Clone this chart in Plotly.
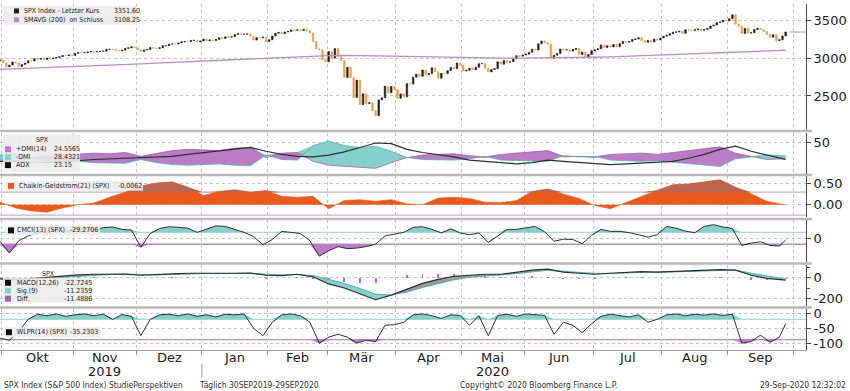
import numpy as np
import pandas as pd
import plotly.graph_objects as go
from plotly.subplots import make_subplots

# ---------------------------------------------------------------- data
holidays = ["2019-11-28", "2019-12-25", "2020-01-01", "2020-01-20", "2020-02-17",
            "2020-04-10", "2020-05-25", "2020-07-03", "2020-09-07"]

spx_first_open = 2967.07
spx_close = [
    2976.74,
    # Oct 2019
    2940.25, 2887.61, 2910.63, 2952.01, 2938.79, 2893.06, 2919.40, 2938.13, 2970.27, 2966.15,
    2995.68, 2989.69, 2997.95, 2986.20, 3006.72, 2995.99, 3004.52, 3010.29, 3022.55, 3039.42,
    3036.89, 3046.77, 3037.56,
    # Nov
    3066.91, 3078.27, 3074.62, 3076.78, 3085.18, 3093.08, 3087.01, 3091.84, 3094.04, 3096.63,
    3120.46, 3122.03, 3120.18, 3108.46, 3103.54, 3110.29, 3133.64, 3140.52, 3153.63, 3140.98,
    # Dec
    3113.87, 3093.20, 3112.76, 3117.43, 3145.91, 3135.96, 3132.52, 3141.63, 3168.57, 3168.80,
    3191.45, 3192.52, 3191.14, 3205.37, 3221.22, 3224.01, 3223.38, 3239.91, 3240.02, 3221.29,
    3230.78,
    # Jan 2020
    3257.85, 3234.85, 3246.28, 3237.18, 3253.05, 3274.70, 3265.35, 3288.13, 3283.15, 3289.29,
    3316.81, 3329.62, 3320.79, 3321.75, 3325.54, 3295.47, 3243.63, 3276.24, 3273.40, 3283.66,
    3225.52,
    # Feb
    3248.92, 3297.59, 3334.69, 3345.78, 3327.71, 3352.09, 3357.75, 3379.45, 3373.94, 3380.16,
    3370.29, 3386.15, 3373.23, 3337.75, 3225.89, 3128.21, 3116.39, 2978.76, 2954.22,
    # Mar
    3090.23, 3003.37, 3130.12, 3023.94, 2972.37, 2746.56, 2882.23, 2741.38, 2480.64, 2711.02,
    2386.13, 2529.19, 2398.10, 2409.39, 2304.92, 2237.40, 2447.33, 2475.56, 2630.07, 2541.47,
    2626.65, 2584.59,
    # Apr
    2470.50, 2526.90, 2488.65, 2663.68, 2659.41, 2749.98, 2789.82, 2761.63, 2846.06, 2783.36,
    2799.55, 2874.56, 2823.16, 2736.56, 2799.31, 2797.80, 2836.74, 2878.48, 2863.39, 2939.51,
    2912.43,
    # May
    2830.71, 2842.74, 2868.44, 2848.42, 2881.19, 2929.80, 2930.32, 2870.12, 2820.00, 2852.50,
    2863.70, 2953.91, 2922.94, 2971.61, 2948.51, 2955.45, 2991.77, 3036.13, 3029.73, 3044.31,
    # Jun
    3055.73, 3080.82, 3122.87, 3112.35, 3193.93, 3232.39, 3207.18, 3190.14, 3002.10, 3041.31,
    3066.59, 3124.74, 3113.49, 3115.34, 3097.74, 3117.86, 3131.29, 3050.33, 3083.76, 3009.05,
    3053.24, 3100.29,
    # Jul
    3115.86, 3130.01, 3179.72, 3145.32, 3169.94, 3152.05, 3185.04, 3155.22, 3197.52, 3226.56,
    3215.57, 3224.73, 3251.84, 3257.30, 3276.02, 3235.66, 3215.63, 3239.41, 3218.44, 3258.44,
    3246.22, 3271.12,
    # Aug
    3294.61, 3306.51, 3327.77, 3349.16, 3351.28, 3360.47, 3333.69, 3380.35, 3373.43, 3372.85,
    3381.99, 3389.78, 3374.85, 3385.51, 3397.16, 3431.28, 3443.62, 3478.73, 3484.55, 3508.01,
    3500.31,
    # Sep
    3526.65, 3580.84, 3455.06, 3426.96, 3331.84, 3398.96, 3339.19, 3340.97, 3383.54, 3401.20,
    3385.49, 3357.01, 3319.47, 3281.06, 3315.57, 3236.92, 3246.59, 3298.46, 3351.60,
]

# indicators read every 5th trading day (+ last day)
sma200 = [2855, 2862, 2869, 2876, 2884, 2892, 2900, 2909, 2918, 2927,
          2937, 2947, 2957, 2967, 2977, 2987, 2997, 3007, 3016, 3025,
          3033, 3038, 3041, 3041, 3037, 3031, 3026, 3021, 3017, 3013,
          3010, 3007, 3004, 3003, 3004, 3006, 3008, 3011, 3015, 3020,
          3026, 3033, 3040, 3048, 3057, 3066, 3075, 3084, 3092, 3099,
          3106, 3108.25]
dmi_plus = [22, 20, 26, 29, 30, 31, 33, 32, 34, 28,
            33, 37, 39, 38, 37, 41, 42, 26, 33, 34,
            20, 14, 12, 10, 9, 18, 26, 30, 31, 32,
            29, 26, 31, 33, 36, 37, 27, 28, 26, 31,
            32, 33, 31, 34, 36, 39, 43, 33, 28, 23,
            24, 24.5565]
dmi_minus = [30, 32, 24, 20, 19, 20, 18, 18, 17, 23,
             18, 15, 14, 15, 16, 14, 13, 30, 23, 22,
             45, 52, 45, 42, 44, 36, 26, 23, 23, 22,
             24, 28, 22, 21, 20, 20, 29, 27, 28, 22,
             21, 20, 21, 19, 17, 14, 12, 24, 27, 30,
             29, 28.4321]
adx = [20, 20, 19, 18, 19, 21, 23, 24, 25, 25,
       26, 28, 31, 34, 36, 39, 42, 36, 31, 28,
       27, 30, 35, 42, 49, 48, 39, 34, 31, 27,
       22, 20, 18, 16, 18, 22, 20, 18, 16, 15,
       16, 17, 18, 20, 25, 31, 39, 44, 36, 30,
       25, 23.15]
chaikin = [0.06, -0.08, -0.15, -0.18, -0.08, 0.00, 0.04, 0.18, 0.30, 0.45,
           0.52, 0.55, 0.42, 0.22, 0.32, 0.36, 0.30, 0.34, 0.20, 0.18,
           0.20, -0.10, 0.10, 0.12, 0.08, 0.12, 0.02, 0.00, 0.16, 0.18,
           0.15, 0.06, 0.05, 0.10, 0.32, 0.38, 0.25, 0.15, -0.02, -0.10,
           0.05, 0.20, 0.35, 0.48, 0.50, 0.55, 0.60, 0.42, 0.26, 0.08,
           0.02, -0.0062]
macd = [-10, -18, -8, 5, 15, 28, 35, 38, 36, 25,
        28, 38, 45, 44, 40, 45, 47, 25, 22, 35,
        10, -60, -100, -160, -215, -170, -110, -55, -15, 15,
        25, 35, 35, 55, 75, 85, 55, 45, 35, 45,
        55, 60, 55, 60, 65, 70, 80, 75, 25, -5,
        -20, -22.7245]
macd_signal = [-5, -12, -12, -5, 5, 16, 26, 32, 35, 31,
               29, 33, 39, 42, 41, 43, 45, 35, 28, 31,
               22, -15, -55, -105, -160, -168, -140, -95, -55, -20,
               5, 20, 28, 42, 60, 74, 64, 53, 43, 44,
               50, 56, 56, 58, 62, 67, 75, 76, 45, 15,
               -8, -11.2359]

# indicators read every 3rd trading day (+ last day)
cmci = [-50, -250, -40, 40, 90, 120, 140, 110, 150, 170,
        140, 180, 190, 150, 140, -150, 80, 165, 195, 185,
        170, 100, 150, 210, 200, 145, 100, 30, -110, -20,
        115, 100, 80, -40, -300, -210, -140, -175, -165, -140,
        -100, 40, 70, 100, 185, 195, 150, 90, 160, 90,
        60, 90, -70, 40, 150, 150, 170, 200, 110, -50,
        -15, -20, -90, 50, 150, 117, 117, 95, 60, 20,
        60, 200, 170, 120, 95, 200, 230, 190, 165, -120,
        -80, -60, -120, -130, -29.2706]
wlpr = [-83, -90, -60, -20, -3, -8, -2, -10, -5, -2,
        -8, -3, -20, -4, -10, -75, -20, -5, -3, -8,
        -2, -10, -5, -12, -3, -5, -2, -50, -75, -30,
        -5, -2, -8, -30, -100, -80, -70, -80, -100, -90,
        -95, -40, -38, -30, -5, -2, -8, -17, -5, -7,
        -40, -8, -75, -7, -3, -10, -2, -5, -7, -70,
        -30, -40, -65, -35, -10, -3, -8, -12, -5, -30,
        -20, -5, -2, -8, -3, -6, -2, -7, -3, -100,
        -95, -73, -97, -80, -35.2303]

month_labels = ["Okt", "Nov", "Dez", "Jan", "Feb", "Mär", "Apr", "Mai", "Jun", "Jul", "Aug", "Sep"]
year_labels = [("2019", 1), ("2020", 7)]   # (text, month slot it sits under)

# ---------------------------------------------------------------- helpers
cal = pd.bdate_range("2019-09-30", "2020-10-09")
cal = cal[~cal.strftime("%Y-%m-%d").isin(holidays)]
n = min(len(spx_close), len(cal))
close = np.array(spx_close[:n], dtype=float)
opn = np.r_[spx_first_open, close[:-1]]
xday = np.arange(n)

s5 = np.r_[np.arange(0, n - 1, 5), n - 1]
s3 = np.r_[np.arange(0, n - 2, 3), n - 1]


def series(idx, vals):
    m = min(len(idx), len(vals))
    return idx[:m], np.array(vals[:m], dtype=float)


W, H = 806.0, 350.0
def px(x): return x / W
def py(y): return 1 - y / H

FONT = "DejaVu Sans"
SMALL = "DejaVu Sans Condensed, Liberation Sans Narrow, Arial Narrow, DejaVu Sans"
GRID = "#c4c4c4"
AXIS = "#4a4a4a"
PURPLE = "#bb7cc6"
PURPLE_L = "#a35cae"
CYAN = "#86cfcb"
CYAN_L = "#4fb3ad"
ORANGE = "#ea5a1e"
BROWN = "#bb654f"
DARK = "#2e2e2e"
CANDLE_UP = "#1e1e1e"
CANDLE_DN = "#f29b45"

PANELS = [(0, 127), (130, 172), (174, 215), (219, 261), (264, 305), (309, 350)]

fig = make_subplots(rows=6, cols=1, shared_xaxes=True, vertical_spacing=0.0)

NOHOV = dict(hoverinfo="skip", showlegend=False)

# ---- price panel
fig.add_trace(go.Candlestick(
    x=xday, open=opn, close=close,
    high=np.maximum(opn, close), low=np.minimum(opn, close),
    increasing=dict(line=dict(color=CANDLE_UP, width=0.6), fillcolor=CANDLE_UP),
    decreasing=dict(line=dict(color=CANDLE_DN, width=0.6), fillcolor=CANDLE_DN),
    whiskerwidth=0, showlegend=False, hoverinfo="skip"), row=1, col=1)
xs, ys = series(s5, sma200)
fig.add_trace(go.Scatter(x=xs, y=ys, mode="lines", line=dict(color="#b98bc7", width=1.3), **NOHOV), row=1, col=1)

# ---- DMI panel
xs, pdi = series(s5, dmi_plus)
_, mdi = series(s5, dmi_minus)
_, adxv = series(s5, adx)
fig.add_trace(go.Scatter(x=xs, y=mdi, mode="lines", line=dict(width=0), **NOHOV), row=2, col=1)
fig.add_trace(go.Scatter(x=xs, y=np.maximum(pdi, mdi), mode="lines", line=dict(width=0),
                         fill="tonexty", fillcolor=PURPLE, **NOHOV), row=2, col=1)
fig.add_trace(go.Scatter(x=xs, y=pdi, mode="lines", line=dict(width=0), **NOHOV), row=2, col=1)
fig.add_trace(go.Scatter(x=xs, y=np.maximum(pdi, mdi), mode="lines", line=dict(width=0),
                         fill="tonexty", fillcolor=CYAN, **NOHOV), row=2, col=1)
fig.add_trace(go.Scatter(x=xs, y=pdi, mode="lines", line=dict(color=PURPLE_L, width=0.8), **NOHOV), row=2, col=1)
fig.add_trace(go.Scatter(x=xs, y=mdi, mode="lines", line=dict(color=CYAN_L, width=0.8), **NOHOV), row=2, col=1)
fig.add_trace(go.Scatter(x=xs, y=adxv, mode="lines", line=dict(color=DARK, width=1.2), **NOHOV), row=2, col=1)

# ---- Chaikin panel
CH_HI = 0.30
xs, ch = series(s5, chaikin)
fig.add_trace(go.Scatter(x=xs, y=ch, mode="lines", line=dict(color=ORANGE, width=0.6),
                         fill="tozeroy", fillcolor=ORANGE, **NOHOV), row=3, col=1)
fig.add_trace(go.Scatter(x=xs, y=np.full(len(xs), CH_HI), mode="lines", line=dict(width=0), **NOHOV), row=3, col=1)
fig.add_trace(go.Scatter(x=xs, y=np.maximum(ch, CH_HI), mode="lines", line=dict(width=0),
                         fill="tonexty", fillcolor=BROWN, **NOHOV), row=3, col=1)

# ---- oscillator panels with upper / lower bands
def osc(row, xs, v, hi, lo):
    fig.add_trace(go.Scatter(x=xs, y=np.full(len(xs), hi), mode="lines", line=dict(width=0), **NOHOV), row=row, col=1)
    fig.add_trace(go.Scatter(x=xs, y=np.maximum(v, hi), mode="lines", line=dict(width=0),
                             fill="tonexty", fillcolor=CYAN, **NOHOV), row=row, col=1)
    fig.add_trace(go.Scatter(x=xs, y=np.full(len(xs), lo), mode="lines", line=dict(width=0), **NOHOV), row=row, col=1)
    fig.add_trace(go.Scatter(x=xs, y=np.minimum(v, lo), mode="lines", line=dict(width=0),
                             fill="tonexty", fillcolor=PURPLE, **NOHOV), row=row, col=1)
    fig.add_trace(go.Scatter(x=xs, y=v, mode="lines", line=dict(color=DARK, width=1), **NOHOV), row=row, col=1)

CM_HI, CM_LO = 100, -100
xs, cm = series(s3, cmci)
osc(4, xs, cm, CM_HI, CM_LO)

# ---- MACD panel
xs, mc = series(s5, macd)
_, sg = series(s5, macd_signal)
diff = mc - sg
fig.add_trace(go.Bar(x=xs, y=diff, width=0.6, marker=dict(color="#b46fbf", line=dict(width=0)), **NOHOV), row=5, col=1)
fig.add_trace(go.Scatter(x=xs, y=sg, mode="lines", line=dict(width=0), **NOHOV), row=5, col=1)
fig.add_trace(go.Scatter(x=xs, y=np.minimum(mc, sg), mode="lines", line=dict(width=0),
                         fill="tonexty", fillcolor=CYAN, **NOHOV), row=5, col=1)
fig.add_trace(go.Scatter(x=xs, y=sg, mode="lines", line=dict(width=0), **NOHOV), row=5, col=1)
fig.add_trace(go.Scatter(x=xs, y=np.maximum(mc, sg), mode="lines", line=dict(width=0),
                         fill="tonexty", fillcolor="#9a9a9a", **NOHOV), row=5, col=1)
fig.add_trace(go.Scatter(x=xs, y=sg, mode="lines", line=dict(color=CYAN_L, width=1), **NOHOV), row=5, col=1)
fig.add_trace(go.Scatter(x=xs, y=mc, mode="lines", line=dict(color=DARK, width=1.2), **NOHOV), row=5, col=1)

# ---- WLPR panel
WL_HI, WL_LO = -20, -88
xs, wl = series(s3, wlpr)
osc(6, xs, wl, WL_HI, WL_LO)

# ---------------------------------------------------------------- axes
months = cal.month
bounds = [i - 0.5 for i in range(1, len(cal)) if months[i] != months[i - 1]]
centers = [(bounds[i] + bounds[i + 1]) / 2 for i in range(len(bounds) - 1)]
XR = [0, W / 3.13]

yconf = [
    dict(range=[2053, 3724], tickvals=[2500, 3000, 3500]),
    dict(range=[0, 65.6], tickvals=[50]),
    dict(range=[-0.286, 0.69], tickvals=[0.0, 0.5], ticktext=["0.00", "0.50"]),
    dict(range=[-400, 300], tickvals=[0]),
    dict(range=[-272, 126], tickvals=[0, -200],
         minor=dict(tickvals=[100, -100], ticks="outside", ticklen=3, tickcolor=AXIS, showgrid=False)),
    dict(range=[-123, 13], tickvals=[0, -50, -100]),
]
for r in range(1, 7):
    yn = "yaxis" if r == 1 else f"yaxis{r}"
    xn = "xaxis" if r == 1 else f"xaxis{r}"
    t, b = PANELS[r - 1]
    c = dict(yconf[r - 1])
    if "ticktext" not in c:
        c["ticktext"] = [f"{v:g}" for v in c["tickvals"]]
    fig.layout[yn].update(
        side="right", domain=[py(b), py(t)], tickmode="array",
        showgrid=True, gridcolor=GRID, griddash="dot", gridwidth=1, zeroline=False,
        showline=True, linecolor=AXIS, linewidth=1, ticks="outside", ticklen=4, tickcolor=AXIS,
        tickfont=dict(family=FONT, size=13, color="#1a1a1a"), fixedrange=True, **c)
    fig.layout[xn].update(
        range=XR, tickmode="array", tickvals=bounds, showticklabels=False,
        showgrid=True, gridcolor=GRID, griddash="dot", gridwidth=1, zeroline=False,
        ticks="", showline=False, fixedrange=True)
fig.layout.xaxis6.update(ticks="outside", ticklen=4, tickcolor="#8a8a8a", showline=True, linecolor="#a0a0a0")
fig.layout.xaxis.rangeslider.visible = False

# ---------------------------------------------------------------- shapes
shapes = []
for y in [128.5, 173, 217.5, 262.5, 307]:
    shapes.append(dict(type="line", xref="paper", yref="paper", x0=0, x1=px(812), y0=py(y), y1=py(y),
                       line=dict(color="#b9b9b9", width=2.5), layer="above"))
# band lines
for yref, val, col in [("y3", CH_HI, "#ccb0d4"), ("y3", -0.25, "#ccb0d4"),
                       ("y4", CM_HI, "#a8dcd8"), ("y4", CM_LO, "#b88cc2"),
                       ("y6", WL_HI, "#a8dcd8"), ("y6", WL_LO, "#b88cc2")]:
    shapes.append(dict(type="line", xref="paper", yref=yref, x0=0, x1=1, y0=val, y1=val,
                       line=dict(color=col, width=1.3), layer="between"))
# last price marker
shapes.append(dict(type="line", xref="x", yref="y", x0=n + 0.3, x1=XR[1], y0=close[-1], y1=close[-1],
                   line=dict(color="#9a9a9a", width=1.2), layer="above"))
# year separator
shapes.append(dict(type="line", xref="x6", yref="paper", x0=bounds[3], x1=bounds[3], y0=py(364), y1=py(378),
                   line=dict(color="#9a9a9a", width=1)))

annotations = []

def box(x0, y0, x1, y1):
    shapes.append(dict(type="rect", xref="paper", yref="paper", x0=px(x0), x1=px(x1), y0=py(y1), y1=py(y0),
                       fillcolor="rgba(236,236,236,0.88)", line=dict(width=0), layer="above"))

def square(x, y, col, s=6):
    shapes.append(dict(type="rect", xref="paper", yref="paper", x0=px(x), x1=px(x + s),
                       y0=py(y + s / 2), y1=py(y - s / 2), fillcolor=col, line=dict(width=0), layer="above"))

def text(x, y, s, size=7, anchor="left", color="#1a1a1a", family=SMALL):
    annotations.append(dict(x=px(x), y=py(y), xref="paper", yref="paper", text=s, showarrow=False,
                            xanchor=anchor, yanchor="middle", font=dict(family=family, size=size, color=color)))

# price legend
box(3, 2, 137, 21)
square(14, 7, CANDLE_UP, 5)
square(14, 16, "#b98bc7", 5)
text(22, 7, "SPX Index - Letzter Kurs")
text(112, 7, f"{close[-1]:.2f}")
text(22, 16, "SMAVG (200)  on Schluss")
text(112, 16, f"{sma200[-1]:.2f}")

# DMI legend
box(3, 132, 80, 170)
text(34, 138, "SPX")
for yy, col, lab, val in [(147, PURPLE, "+DMI(14)", f"{dmi_plus[-1]:.4f}"),
                          (155, CYAN, "-DMI", f"{dmi_minus[-1]:.4f}"),
                          (163, "#111111", "ADX", f"{adx[-1]:.2f}")]:
    square(5, yy, col)
    text(14, yy, lab)
    text(52, yy, val)

# Chaikin legend
box(5, 179, 143, 189)
square(8, 184, ORANGE)
text(17, 184, "Chaikin-Geldstrom(21) (SPX)")
text(116, 184, f"{chaikin[-1]:.4f}")

# CMCI legend
box(5, 224, 100, 234)
square(8, 229, "#111111")
text(15, 229, "CMCI(13) (SPX)")
text(68, 229, f"{cmci[-1]:.4f}")

# MACD legend
box(3, 277, 92, 302)
text(40, 273, "SPX")
for yy, col, lab, val in [(282, "#111111", "MACD(12,26)", f"{macd[-1]:.4f}"),
                          (290, CYAN, "Sig.(9)", f"{macd_signal[-1]:.4f}"),
                          (298, PURPLE_L, "Diff.", f"{macd[-1] - macd_signal[-1]:.4f}")]:
    square(5, yy, col)
    text(15, yy, lab)
    text(62, yy, val)

# WLPR legend
box(3, 327, 100, 337)
square(6, 332, "#111111")
text(15, 332, "WLPR(14) (SPX)")
text(68, 332, f"{wlpr[-1]:.4f}")

# month and year labels
for c, lab in zip(centers, month_labels):
    annotations.append(dict(x=c, y=py(358), xref="x6", yref="paper", text=lab, showarrow=False,
                            xanchor="center", yanchor="middle", font=dict(family=FONT, size=13, color="#1a1a1a")))
for lab, slot in year_labels:
    annotations.append(dict(x=centers[slot], y=py(372), xref="x6", yref="paper", text=lab, showarrow=False,
                            xanchor="center", yanchor="middle", font=dict(family=FONT, size=13, color="#1a1a1a")))

# footer
text(2, 385, "SPX Index (S&P 500 Index) StudiePerspektiven", size=8.5, color="#333333")
text(197, 385, "Täglich 30SEP2019-29SEP2020", size=8.5, color="#333333")
text(458, 385, "Copyright© 2020 Bloomberg Finance L.P.", size=8.5, color="#333333")
text(848, 385, "29-Sep-2020 12:32:02", size=8.5, color="#333333", anchor="right")

fig.update_layout(
    width=850, height=391, margin=dict(l=0, r=44, t=0, b=41),
    paper_bgcolor="white", plot_bgcolor="white", showlegend=False, hovermode=False,
    bargap=0, shapes=shapes, annotations=annotations,
    font=dict(family=FONT, size=12, color="#1a1a1a"),
)

fig.write_html("out.html", config={"displayModeBar": False, "staticPlot": True},
               post_script="document.body.style.margin='0';")
